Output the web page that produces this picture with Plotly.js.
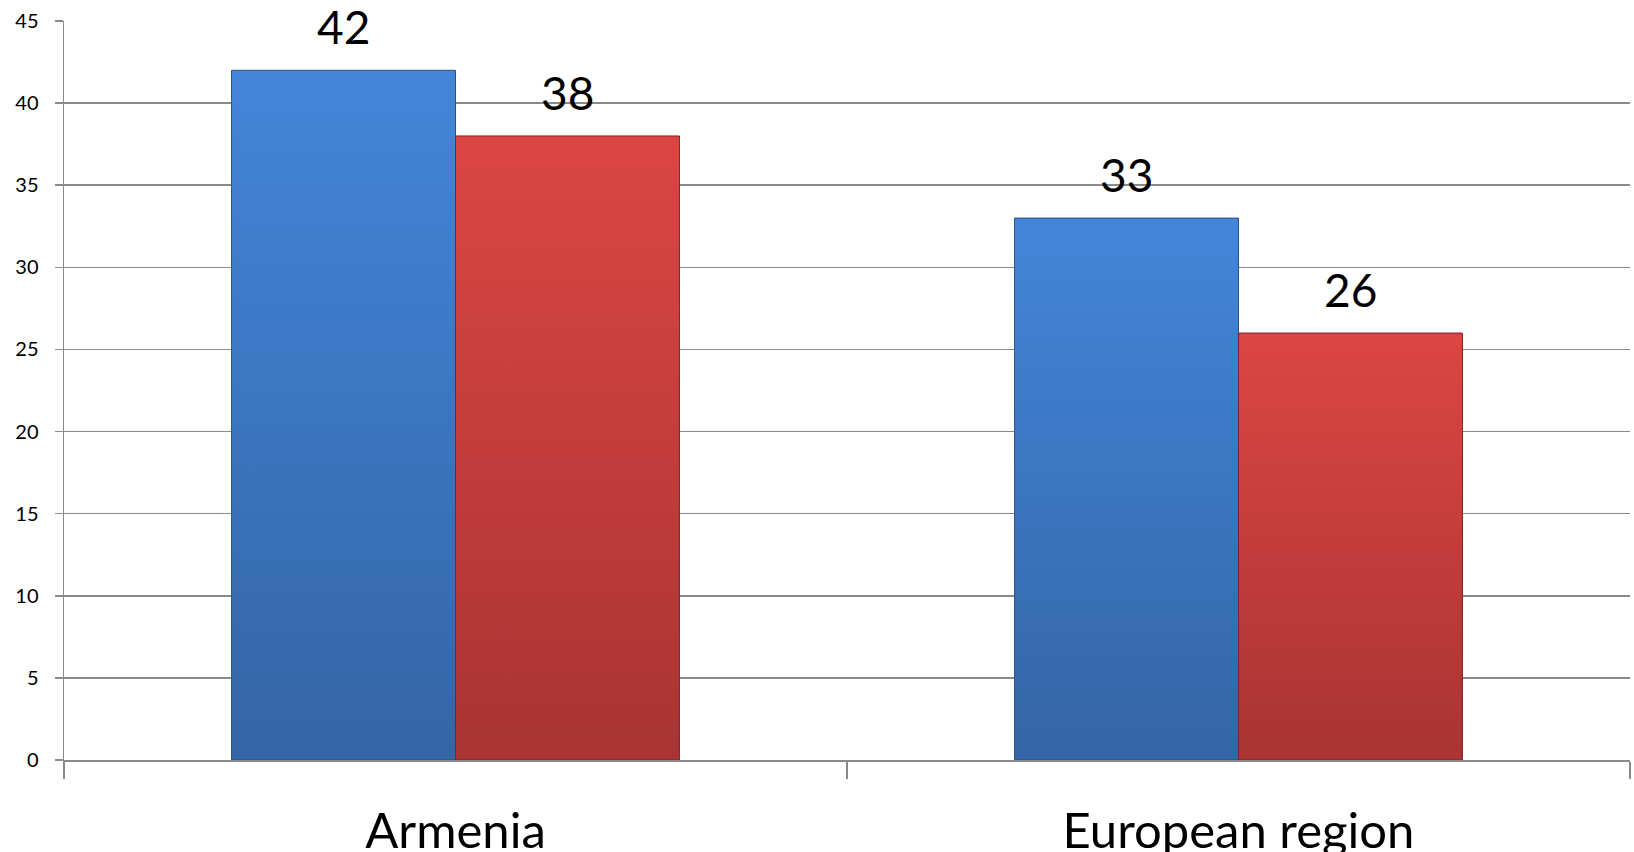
<!DOCTYPE html>
<html>
<head>
<meta charset="utf-8">
<script src="https://cdn.plot.ly/plotly-3.0.1.min.js"></script>
<style>html,body{margin:0;padding:0;background:#fff;}#chart{width:1634px;height:852px;}</style>
</head>
<body>
<div id="chart"></div>
<script>
const categories = ["Armenia", "European region"];
const seriesA = [42, 33];
const seriesB = [38, 26];
const yTickVals = [0, 5, 10, 15, 20, 25, 30, 35, 40, 45];

const gridColor = "#8a8a8a";
const bargap = 0.428;
const barFrac = (1 - bargap) / 2;

const traces = [
  {type: "bar", x: categories, y: seriesA, name: "A",
   marker: {color: "#3c77c4", line: {color: "#2b5187", width: 1}}, hoverinfo: "none"},
  {type: "bar", x: categories, y: seriesB, name: "B",
   marker: {color: "#c23e3b", line: {color: "#7d2524", width: 1}}, hoverinfo: "none"}
];

const annotations = [];
[seriesA, seriesB].forEach((s, i) => {
  s.forEach((v, j) => {
    annotations.push({
      x: j + (i - 0.5) * barFrac, y: v, xref: "x", yref: "y",
      text: String(v), showarrow: false, yanchor: "bottom", yshift: 14,
      font: {family: "Lato, 'Open Sans', sans-serif", size: 46, color: "#000"}
    });
  });
});

const layout = {
  width: 1634, height: 852,
  margin: {l: 64, r: 4, t: 21, b: 92, pad: 0},
  paper_bgcolor: "#fff", plot_bgcolor: "#fff",
  showlegend: false,
  barmode: "group", bargap: bargap, bargroupgap: 0,
  font: {family: "Lato, 'Open Sans', sans-serif", color: "#000"},
  xaxis: {
    type: "category", range: [-0.5, 1.5],
    showline: true, linecolor: gridColor, linewidth: 1.5,
    ticks: "outside", ticklen: 17, tickwidth: 1.5, tickcolor: gridColor,
    tickson: "boundaries", showgrid: false, zeroline: false,
    tickfont: {size: 49, color: "#000"}, ticklabelstandoff: 28
  },
  yaxis: {
    range: [0, 45], tickvals: yTickVals,
    showline: true, linecolor: gridColor, linewidth: 1.5,
    ticks: "outside", ticklen: 8, tickwidth: 1.5, tickcolor: gridColor,
    showgrid: true, gridcolor: gridColor, gridwidth: 1.5, zeroline: false,
    tickfont: {size: 20, color: "#000"}, ticklabelstandoff: 12
  },
  annotations: annotations
};

Plotly.newPlot("chart", traces, layout, {displayModeBar: false, staticPlot: true}).then(gd => {
  const svg = gd.querySelector("svg.main-svg");
  const ns = "http://www.w3.org/2000/svg";
  let defs = svg.querySelector("defs");
  if (!defs) { defs = document.createElementNS(ns, "defs"); svg.insertBefore(defs, svg.firstChild); }
  function grad(id, top, bottom) {
    const g = document.createElementNS(ns, "linearGradient");
    g.setAttribute("id", id);
    g.setAttribute("x1", "0"); g.setAttribute("y1", "0");
    g.setAttribute("x2", "0"); g.setAttribute("y2", "1");
    [[0, top], [1, bottom]].forEach(([o, c]) => {
      const st = document.createElementNS(ns, "stop");
      st.setAttribute("offset", o); st.setAttribute("stop-color", c);
      g.appendChild(st);
    });
    defs.appendChild(g);
  }
  grad("gBlue", "#4386d8", "#3465a6");
  grad("gRed", "#dc4642", "#a83433");
  const ids = ["gBlue", "gRed"];
  gd.querySelectorAll(".barlayer .trace").forEach((t, i) => {
    t.querySelectorAll(".point path").forEach(p => { p.style.fill = "url(#" + ids[i] + ")"; });
  });
});
</script>
</body>
</html>
